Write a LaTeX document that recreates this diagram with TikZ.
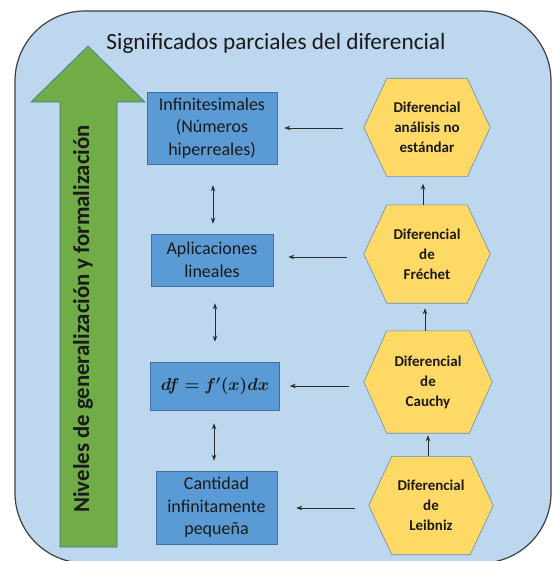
\documentclass[tikz,border=0pt]{standalone}
\usepackage{fontspec}
\setmainfont{Carlito}
\usepackage{amsmath,bm}
\usetikzlibrary{arrows.meta,calc,backgrounds}
\definecolor{bgblue}{HTML}{BDD7EE}
\definecolor{boxblue}{HTML}{5B9BD5}
\definecolor{edgeblue}{HTML}{41719C}
\definecolor{hexyellow}{HTML}{FFD966}
\definecolor{arrowgreen}{HTML}{70AD47}
\definecolor{txt}{HTML}{1A1A1A}
\definecolor{linegray}{HTML}{2B2B2B}
\tikzset{
  bgrect/.style={draw=linegray!90, line width=1.2pt, fill=bgblue, rounded corners=70pt},
  greenarrow/.style={draw=edgeblue, line width=0.6pt, fill=arrowgreen},
  bluebox/.style={draw=edgeblue, line width=0.6pt, fill=boxblue, align=center, inner sep=0pt, text=txt, font=\fontsize{18}{22.5}\selectfont},
  hexnode/.style={minimum width=126pt, minimum height=98pt, inner sep=0pt, align=center, text=txt, font=\bfseries\fontsize{15}{20}\selectfont},
  hexshape/.style={draw=edgeblue!80, line width=0.6pt, fill=hexyellow},
  arr/.style={draw=linegray, line width=0.9pt, -{Stealth[length=6pt,width=4.5pt]}},
  dbl/.style={draw=linegray, line width=0.9pt, {Stealth[length=6pt,width=4.5pt]}-{Stealth[length=6pt,width=4.5pt]}}
}
\newcommand{\hexdraw}[1]{%
  \path[hexshape] ($(#1.north west)+(23,0)$) -- ($(#1.north east)+(-23,0)$) -- (#1.east) --
    ($(#1.south east)+(-23,0)$) -- ($(#1.south west)+(23,0)$) -- (#1.west) -- cycle;}
\begin{document}
\begin{tikzpicture}[x=1pt,y=-1pt]
\useasboundingbox (0,0) rectangle (552,561);
\begin{pgfonlayer}{background}
  \path[bgrect] (15,11) rectangle (551,563);
\end{pgfonlayer}
% green arrow
\path[greenarrow] (60,547) -- (60,102) -- (31,102) -- (88,46) -- (145,102) -- (117,102) -- (117,547) -- cycle;
\node[rotate=90, text=txt, font=\bfseries\fontsize{22.8}{27}\selectfont] (lvl) at (83,319) {Niveles de generalización y formalización};
% title
\node[text=txt, font=\fontsize{23.3}{28}\selectfont] (title) at (276,43) {Significados parciales del diferencial};
% blue boxes
\node[bluebox, minimum width=130pt, minimum height=72pt] (b1) at (212,128) {Infinitesimales\\(Números\\hiperreales)};
\node[bluebox, minimum width=122pt, minimum height=52pt] (b2) at (212,260) {Aplicaciones\\lineales};
\node[bluebox, minimum width=129pt, minimum height=48pt] (b3) at (215,386) {$\bm{df = f'(x)dx}$};
\node[bluebox, minimum width=121pt, minimum height=73pt] (b4) at (216.5,507.5) {Cantidad\\infinitamente\\pequeña};
% hexagons
\node[hexnode] (h1) at (427,127.5) {Diferencial\\análisis no\\estándar};
\node[hexnode] (h2) at (427,254) {Diferencial\\de\\Fréchet};
\node[hexnode, minimum width=128pt, minimum height=102pt] (h3) at (428,382) {Diferencial\\de\\Cauchy};
\node[hexnode, minimum width=124pt] (h4) at (431,505.5) {Diferencial\\de\\Leibniz};
\begin{pgfonlayer}{background}
  \hexdraw{h1}\hexdraw{h2}\hexdraw{h3}\hexdraw{h4}
\end{pgfonlayer}
% double arrows between boxes
\draw[dbl, shorten <=21pt, shorten >=10pt] ([xshift=1pt]b1.south) -- ([xshift=1pt]b2.north);
\draw[dbl, shorten <=17pt, shorten >=20pt] ([xshift=3pt]b2.south) -- ([xshift=0pt]b3.north);
\draw[dbl, shorten <=13pt, shorten >=10pt] ([xshift=-1pt]b3.south) -- ([xshift=-2.5pt]b4.north);
% horizontal arrows
\coordinate (s1) at ([xshift=-21pt,yshift=-0.5pt]h1.west);
\coordinate (s2) at ([xshift=-17pt,yshift=-3pt]h2.west);
\coordinate (s3) at ([xshift=-15pt,yshift=-4pt]h3.west);
\coordinate (s4) at ([xshift=-14pt,yshift=-2.5pt]h4.west);
\draw[arr, shorten >=7pt] (s1) -- (s1 -| b1.east);
\draw[arr, shorten >=15pt] (s2) -- (s2 -| b2.east);
\draw[arr, shorten >=10pt] (s3) -- (s3 -| b3.east);
\draw[arr, shorten >=19pt] (s4) -- (s4 -| b4.east);
% vertical arrows between hexagons
\draw[arr, shorten >=7pt] ([xshift=-4pt]h2.north) -- ([xshift=-4pt]h2.north |- h1.south);
\draw[arr, shorten >=5pt] ([xshift=-3pt]h3.north) -- ([xshift=-3pt]h3.north |- h2.south);
\draw[arr, shorten >=2pt] ([xshift=-3pt]h4.north) -- ([xshift=-3pt]h4.north |- h3.south);
\end{tikzpicture}
\end{document}
